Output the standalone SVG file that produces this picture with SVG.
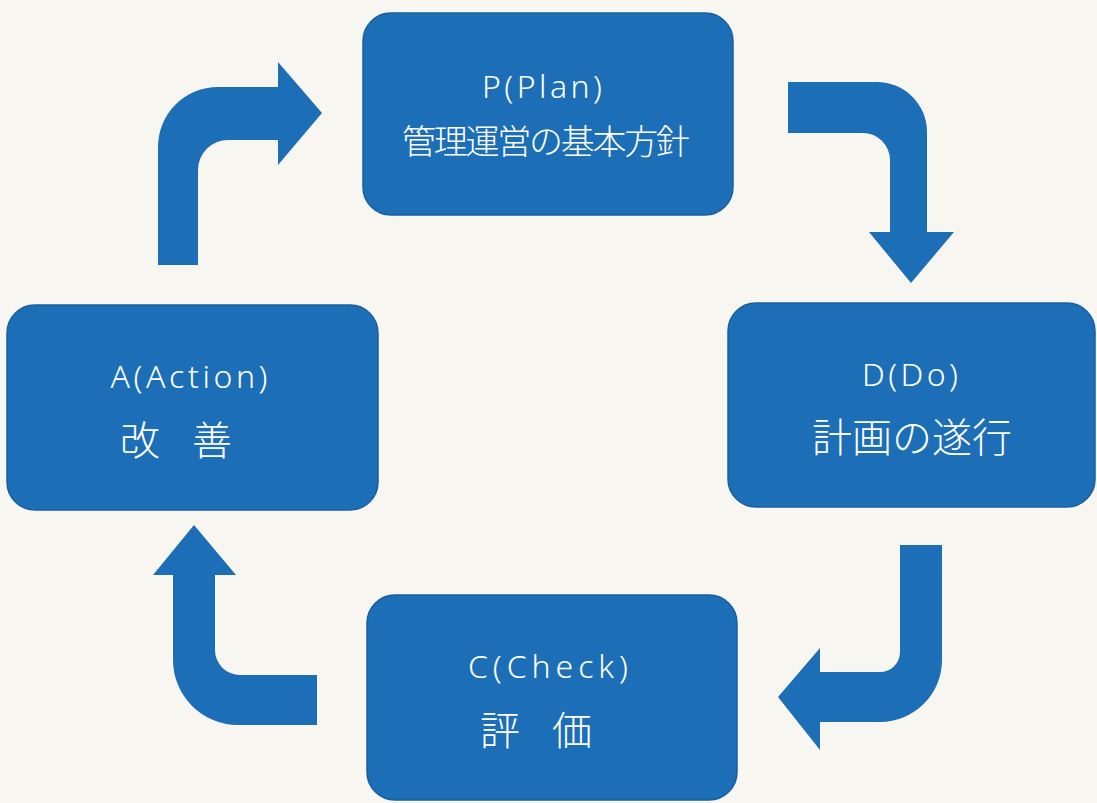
<svg xmlns="http://www.w3.org/2000/svg" width="1097" height="803" viewBox="0 0 1097 803">
  <style>
    .box { fill: #1c6eb6; stroke: #195f9f; stroke-width: 1.5; }
    .arrow { fill: #1c6eb6; }
    .lat { font-family: "Noto Sans", "Liberation Sans", "Noto Sans CJK JP", sans-serif; font-size: 32px; font-weight: 300; fill: #ffffff; text-anchor: middle; }
    .jp { font-family: "Noto Sans CJK JP", "Noto Sans", sans-serif; font-weight: 300; fill: #ffffff; text-anchor: middle; }
  </style>
  <rect x="0" y="0" width="1097" height="803" fill="#f8f6f1"/>
  <g id="connectors">
    <path id="arrow-a-p" class="arrow" d="M158,265 L158,147 A60,60 0 0 1 218,87 L278,87 L278,62 L322,113 L278,165 L278,140 L228,140 A30,30 0 0 0 198,170 L198,265 Z"/>
    <path id="arrow-p-d" class="arrow" d="M788,82 L877,82 A50,50 0 0 1 927,132 L927,232 L954,232 L911,283 L869,232 L890,232 L890,160 A27,27 0 0 0 863,133 L788,133 Z"/>
    <path id="arrow-d-c" class="arrow" d="M900,545 L942,545 L942,660 A62,62 0 0 1 880,722 L820,722 L820,750 L778,697 L820,648 L820,672 L880,672 A20,20 0 0 0 900,652 Z"/>
    <path id="arrow-c-a" class="arrow" d="M317,675 L317,725 L238,725 A65,65 0 0 1 173,660 L173,575 L153,575 L194,525 L236,575 L215,575 L215,650 A25,25 0 0 0 240,675 Z"/>
  </g>
  <g id="node-plan">
    <rect class="box" x="363" y="13" width="370" height="202" rx="28"/>
    <text class="lat" x="542" y="98" textLength="120" lengthAdjust="spacing">P(Plan)</text>
    <text class="jp" x="546" y="154" font-size="34" textLength="288" lengthAdjust="spacing">管理運営の基本方針</text>
  </g>
  <g id="node-do">
    <rect class="box" x="728" y="303" width="367" height="204" rx="28"/>
    <text class="lat" x="910" y="386" textLength="96" lengthAdjust="spacing">D(Do)</text>
    <text class="jp" x="912" y="452" font-size="40" textLength="200" lengthAdjust="spacing">計画の遂行</text>
  </g>
  <g id="node-check">
    <rect class="box" x="367" y="595" width="370" height="205" rx="28"/>
    <text class="lat" x="548" y="678" textLength="160" lengthAdjust="spacing">C(Check)</text>
    <text class="jp" x="536" y="745" font-size="40" textLength="112" lengthAdjust="spacing">評　価</text>
  </g>
  <g id="node-action">
    <rect class="box" x="7" y="305" width="371" height="205" rx="28"/>
    <text class="lat" x="189" y="388" textLength="157" lengthAdjust="spacing">A(Action)</text>
    <text class="jp" x="176" y="455" font-size="40" textLength="112" lengthAdjust="spacing">改　善</text>
  </g>
</svg>
